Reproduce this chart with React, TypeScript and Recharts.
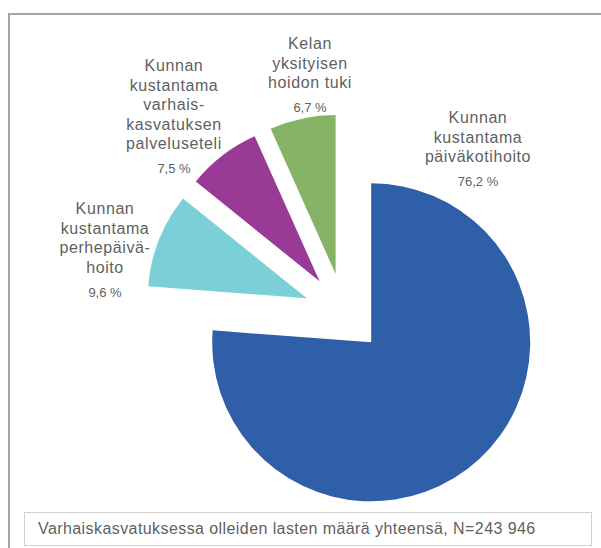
import React from 'react';
import { PieChart, Pie, Sector } from 'recharts';

// categories (line breaks as in the original labels)
const CATEGORIES = [
  'Kunnan\nkustantama\npäiväkotihoito',
  'Kunnan\nkustantama\nperhepäivä-\nhoito',
  'Kunnan\nkustantama\nvarhais-\nkasvatuksen\npalveluseteli',
  'Kelan\nyksityisen\nhoidon tuki',
];
const VALUES = [76.2, 9.6, 7.5, 6.7];
const NOTE = 'Varhaiskasvatuksessa olleiden lasten määrä yhteensä, N=243 946';

const COLORS = ['#2E5FA8', '#7BD0D8', '#983A96', '#86B365'];
// label anchor (centre of first line) relative to pie centre
const LABEL_ANCHORS = [
  [134, -196],
  [-239, -105],
  [-170, -248],
  [-34, -270],
];

const RAD = Math.PI / 180;
const EXPLODE = 40;
const TEXT = '#5f5f5f';

const chartData = CATEGORIES.map((name, i) => ({ name, value: VALUES[i] }));

const renderSlice = (p: any) => {
  const { cx, cy, outerRadius, startAngle, endAngle, index } = p;
  const mid = (startAngle + endAngle) / 2;
  const ox = cx + EXPLODE * Math.cos(-mid * RAD);
  const oy = cy + EXPLODE * Math.sin(-mid * RAD);
  const [dx, dy] = LABEL_ANCHORS[index];
  const lines = CATEGORIES[index].split('\n');
  const lx = cx + dx;
  const ly = cy + dy;
  const pct = VALUES[index].toFixed(1).replace('.', ',') + ' %';
  return (
    <g>
      <Sector
        cx={ox}
        cy={oy}
        innerRadius={0}
        outerRadius={outerRadius}
        startAngle={startAngle}
        endAngle={endAngle}
        fill={COLORS[index]}
        stroke="none"
      />
      <text textAnchor="middle" fill={TEXT} fontSize={16} style={{ letterSpacing: 0.6 }}>
        {lines.map((l, i) => (
          <tspan key={i} x={lx} y={ly + i * 19.6 + 6}>
            {l}
          </tspan>
        ))}
      </text>
      <text
        x={lx}
        y={ly + (lines.length - 1) * 19.6 + 25 + 5}
        textAnchor="middle"
        fill={TEXT}
        fontSize={13}
      >
        {pct}
      </text>
    </g>
  );
};

export default function App() {
  return (
    <div
      style={{
        position: 'absolute',
        left: 0,
        top: 0,
        width: 601,
        height: 548,
        overflow: 'hidden',
        background: '#fff',
        fontFamily: '"Liberation Sans", Arial, sans-serif',
      }}
    >
      <div
        style={{
          position: 'absolute',
          left: 8,
          top: 13,
          width: 620,
          height: 560,
          borderLeft: '2px solid #a6a6a6',
          borderTop: '2px solid #a6a6a6',
        }}
      />
      <div style={{ position: 'absolute', left: 0, top: 0 }}>
        <PieChart width={601} height={548} margin={{ top: 0, right: 0, bottom: 0, left: 0 }}>
          <Pie
            data={chartData}
            dataKey="value"
            nameKey="name"
            cx={344}
            cy={313}
            innerRadius={0}
            outerRadius={159}
            startAngle={90}
            endAngle={-270}
            fill="none"
            stroke="none"
            label={renderSlice}
            labelLine={false}
            isAnimationActive={false}
          />
        </PieChart>
      </div>
      <div
        style={{
          position: 'absolute',
          left: 24,
          top: 512,
          width: 566,
          height: 32,
          border: '1px solid #d0d0d0',
          boxSizing: 'content-box',
          color: TEXT,
          fontSize: 16,
          letterSpacing: 0.42,
          lineHeight: '32px',
          whiteSpace: 'nowrap',
        }}
      >
        <span style={{ marginLeft: 13 }}>{NOTE}</span>
      </div>
    </div>
  );
}
